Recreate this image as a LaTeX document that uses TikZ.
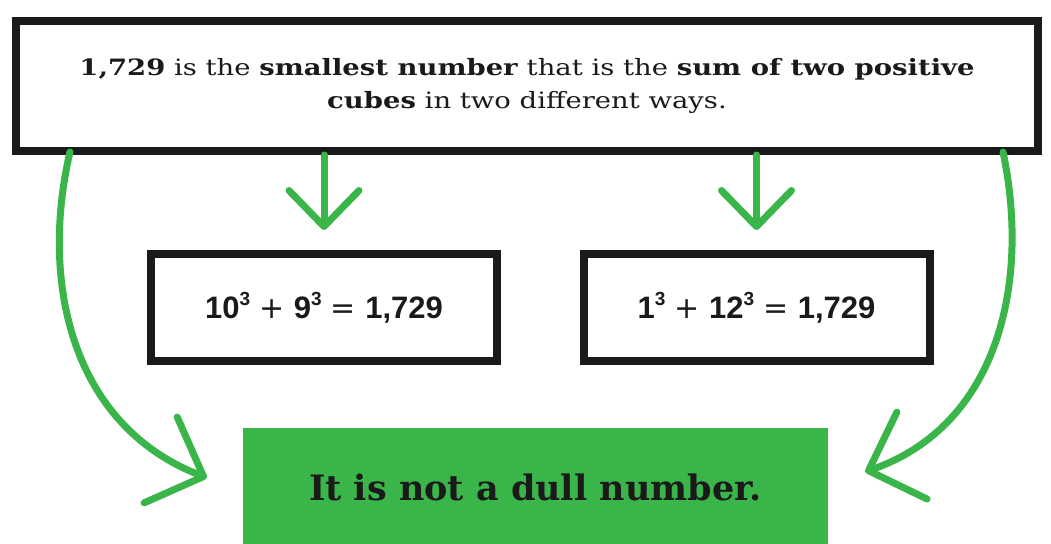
\documentclass[tikz,border=0pt]{standalone}
\usepackage{fontspec}
\setmainfont{DejaVu Serif}
\newfontfamily\eqfont{Liberation Sans}
\newfontfamily\opfont{DejaVu Sans}
\newfontfamily\wideserif[FakeStretch=1.22]{DejaVu Serif}
\usetikzlibrary{arrows.meta}
\definecolor{grn}{HTML}{3AB54A}
\definecolor{ink}{HTML}{1A1A1A}
\tikzset{
  roughbox/.style={draw=ink, line width=8pt, fill=white, inner sep=0pt},
  eqbox/.style={roughbox, minimum width=346pt, minimum height=107pt,
    font=\eqfont\bfseries\fontsize{31}{32}\selectfont},
  flow/.style={draw=grn, line width=7pt, line cap=round,
    -{Straight Barb[length=36pt, width=70pt, round]}},
  bigflow/.style={flow, -{Straight Barb[length=46pt, width=92pt, round]}},
}
\newcommand{\cubed}{\raisebox{0.42em}{\fontsize{19}{19}\selectfont 3}}
\newcommand{\op}[1]{\hspace{0.3em}{\opfont\mdseries\fontsize{30}{30}\selectfont #1}\hspace{0.3em}}
\begin{document}
\begin{tikzpicture}[x=1pt,y=-1pt]
\useasboundingbox (0,0) rectangle (1051,543);
\node[roughbox, minimum width=1022pt, minimum height=130pt, align=center,
  font=\wideserif\fontsize{22.5}{33}\selectfont, text=ink] (top) at (527,86)
  {\textbf{1,729} is the \textbf{smallest number} that is the \textbf{sum of two positive}\\
   \textbf{cubes} in two different ways.};
\node[eqbox, text=ink] (eqL) at (324,307.5) {10\cubed\op{+}9\cubed\op{=}1,729};
\node[eqbox, text=ink] (eqR) at (756.5,307.5) {1\cubed\op{+}12\cubed\op{=}1,729};
\node[fill=grn, minimum width=585pt, minimum height=118pt, inner sep=0pt,
  font=\bfseries\fontsize{35}{38}\selectfont, text=ink] (dull) at (535.5,487)
  {It is not a dull number.};
\draw[flow] (top.south -| eqL.north) -- ([yshift=20pt]eqL.north);
\draw[flow] (top.south -| eqR.north) -- ([yshift=20pt]eqR.north);
\draw[bigflow] ([xshift=58pt,yshift=3pt]top.south west)
  .. controls (40,280) and (70,425) .. ([xshift=-36pt,yshift=-50pt]dull.north west);
\draw[bigflow] ([xshift=-39pt,yshift=3pt]top.south east)
  .. controls (1030,280) and (1000,425) .. ([xshift=37pt,yshift=-44pt]dull.north east);
\end{tikzpicture}
\end{document}
